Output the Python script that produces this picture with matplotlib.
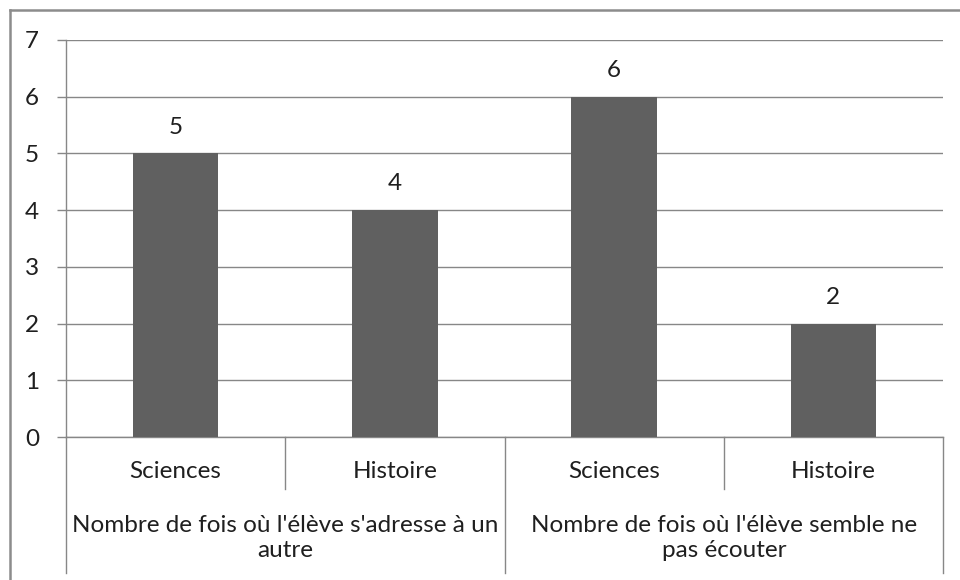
import matplotlib
matplotlib.use("Agg")
import matplotlib.pyplot as plt
import matplotlib.transforms as mtransforms

# Data
subjects = ["Sciences", "Histoire", "Sciences", "Histoire"]
values = [5, 4, 6, 2]
groups = ["Nombre de fois où l'élève s'adresse à un\nautre",
          "Nombre de fois où l'élève semble ne\npas écouter"]
y_ticks = [0, 1, 2, 3, 4, 5, 6, 7]

plt.rcParams['font.family'] = ['Lato', 'DejaVu Sans']
text_color = '#1f1f1f'
line_color = '#878787'
bar_color = '#606060'
fs = 17.5

W, H = 960, 580
fig = plt.figure(figsize=(W / 100, H / 100), dpi=100)

# Outer chart border (only top and left visible in the crop)
fig.add_artist(plt.Line2D([10 / W, 10 / W], [0, 1 - 10 / H], transform=fig.transFigure,
                          color='#8c8c8c', lw=1.8))
fig.add_artist(plt.Line2D([10 / W, 1], [1 - 10 / H, 1 - 10 / H], transform=fig.transFigure,
                          color='#8c8c8c', lw=1.8))

left, right, top, bottom = 66, 943, 40, 437
ax = fig.add_axes([left / W, (H - bottom) / H, (right - left) / W, (bottom - top) / H])

x = list(range(len(values)))
ax.bar(x, values, width=0.39, color=bar_color, zorder=3)

for xi, v in zip(x, values):
    ax.annotate(str(v), (xi, v), xytext=(0, 19), textcoords='offset points',
                ha='center', va='center', fontsize=fs, color=text_color)

ax.set_xlim(-0.5, len(values) - 0.5)
ax.set_ylim(0, 7)
ax.set_yticks(y_ticks)
ax.yaxis.grid(True, color=line_color, lw=1)
ax.set_axisbelow(True)
ax.tick_params(axis='y', length=6.5, width=1, color=line_color, pad=13,
               labelsize=fs, labelcolor=text_color)
ax.set_xticks([])
for s in ['top', 'right']:
    ax.spines[s].set_visible(False)
for s in ['left', 'bottom']:
    ax.spines[s].set_color(line_color)
    ax.spines[s].set_linewidth(1)

# Multi-level category axis
trans = mtransforms.blended_transform_factory(ax.transData, ax.transAxes)
h = bottom - top
lvl1 = -52 / h
lvl2 = -136 / h
for xd in [0.5, 2.5]:
    ax.plot([xd, xd], [0, lvl1], transform=trans, color=line_color, lw=1, clip_on=False)
for xd in [-0.5, 1.5, 3.5]:
    ax.plot([xd, xd], [0, lvl2], transform=trans, color=line_color, lw=1, clip_on=False)

for xi, s in zip(x, subjects):
    ax.text(xi, -34 / h, s, transform=trans, ha='center', va='center',
            fontsize=fs, color=text_color)
for gi, g in enumerate(groups):
    ax.text(2 * gi + 0.5, -101 / h, g, transform=trans, ha='center', va='center',
            fontsize=fs, color=text_color, linespacing=1.28)

fig.savefig("out.png", dpi=100)
